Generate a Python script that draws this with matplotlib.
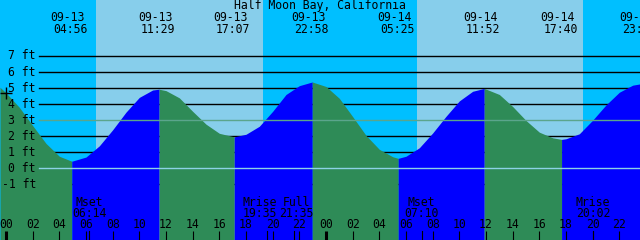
import numpy as np
import matplotlib
matplotlib.use("Agg")
import matplotlib.pyplot as plt
import matplotlib.transforms as mtransforms

TITLE = "Half Moon Bay, California"

# tide height, one value per hour from 09-13 00:00
hourly_ft = [
    4.70, 3.80, 2.66, 1.55, 0.75, 0.46, 0.70, 1.40, 2.40, 3.50, 4.42, 4.88,
    4.84, 4.39, 3.55, 2.75, 2.18, 1.97, 2.12, 2.62, 3.55, 4.60, 5.15, 5.38,
    5.10, 4.36, 3.22, 2.05, 1.18, 0.72, 0.75, 1.28, 2.20, 3.24, 4.20, 4.80,
    4.96, 4.60, 3.85, 2.98, 2.25, 1.90, 1.84, 2.15, 3.00, 3.95, 4.74, 5.18,
]
start_ft = 5.05  # left edge, just before midnight

# highs and lows
tide_dates = ["09-13", "09-13", "09-13", "09-13", "09-14", "09-14", "09-14", "09-14"]
tide_times = ["04:56", "11:29", "17:07", "22:58", "05:25", "11:52", "17:40", "23:33"]
tide_ft = [0.44, 4.93, 1.96, 5.38, 0.62, 4.98, 1.80, 5.26]
tide_high = [False, True, False, True, False, True, False, True]

# sun
sunrise = ["09-13 06:45", "09-14 06:50"]
sunset = ["09-13 19:16", "09-14 19:16"]

# moon
moon_names = ["Mset", "Mrise", "Full", "Mset", "Mrise"]
moon_dates = ["09-13", "09-13", "09-13", "09-14", "09-14"]
moon_times = ["06:14", "19:35", "21:35", "07:10", "20:02"]

levels = [-1, 0, 1, 2, 3, 4, 5, 6, 7]

NIGHT = "#00BFFF"
DAY = "#87CEEB"
FLOOD = "#0000FF"
EBB = "#2E8B57"
MSL = "#5BA58C"
DATUM = "#8CD2E6"

PX = 40 / 3  # pixels per hour
T0, T1 = -6 / PX, 634 / PX
Y0, Y1 = -4.47, 10.49


def to_hours(date, hm):
    day = int(date.split("-")[1]) - 13
    h, m = hm.split(":")
    return day * 24 + int(h) + int(m) / 60


tide_t = [to_hours(d, s) for d, s in zip(tide_dates, tide_times)]
moon_t = [to_hours(d, s) for d, s in zip(moon_dates, moon_times)]
rise_t = [to_hours(*s.split()) for s in sunrise]
set_t = [to_hours(*s.split()) for s in sunset]

t = np.array([T0] + list(range(len(hourly_ft))) + tide_t, dtype=float)
h = np.array([start_ft] + hourly_ft + tide_ft, dtype=float)
order = np.argsort(t)
t, h = t[order], h[order]
# drop hourly points sitting right next to an extreme
keep = np.ones(len(t), bool)
for i in range(len(t) - 1):
    if t[i + 1] - t[i] < 0.15:
        if t[i] in tide_t:
            keep[i + 1] = False
        else:
            keep[i] = False
t, h = t[keep], h[keep]

fig = plt.figure(figsize=(6.4, 2.4), dpi=100)
ax = fig.add_axes([0, 0, 1, 1])
ax.set_xlim(T0, T1)
ax.set_ylim(Y0, Y1)
ax.axis("off")
trans = mtransforms.blended_transform_factory(ax.transData, ax.transAxes)
font = dict(family="DejaVu Sans Mono", fontsize=8.3, color="black")

# day / night
edges = [T0] + sorted(rise_t + set_t) + [T1]
for i in range(len(edges) - 1):
    ax.axvspan(edges[i], edges[i + 1], color=NIGHT if i % 2 == 0 else DAY, lw=0, zorder=0)

# level lines under the water
for lv in levels:
    if lv in (0, 3):
        continue
    ax.axhline(lv, xmin=39 / 640, xmax=1, color="black", lw=1.0, zorder=1)

# water, coloured by rising / falling
bounds = [T0] + tide_t
for i in range(len(bounds) - 1):
    a, b = bounds[i], bounds[i + 1]
    m = (t >= a - 1e-9) & (t <= b + 1e-9)
    col = FLOOD if tide_high[i] else EBB
    ax.fill_between(t[m], h[m], Y0, color=col, lw=0, zorder=2)

ax.axhline(3, xmin=39 / 640, xmax=1, color=MSL, lw=1.0, zorder=3)
ax.axhline(0, xmin=39 / 640, xmax=1, color=DATUM, lw=1.0, zorder=3)

for lv in levels:
    ax.text(36 / 640, lv, f"{lv} ft", transform=ax.get_yaxis_transform(),
            ha="right", va="center", zorder=5, **font)

ax.plot(0, h[t == 0][0], marker="+", ms=8, mew=1.0, color="black", zorder=5)

ax.text(0.5, 1 - 6 / 240, TITLE, transform=ax.transAxes, ha="center", va="center", zorder=5, **font)
for tt, d, s in zip(tide_t, tide_dates, tide_times):
    ax.text(tt - 4 / PX, 1 - 17.5 / 240, d, transform=trans, ha="center", va="center", zorder=5, **font)
    ax.text(tt - 1 / PX, 1 - 29.5 / 240, s, transform=trans, ha="center", va="center", zorder=5, **font)

# hour axis along the bottom
for hr in range(0, 50, 2):
    ax.text(hr, 1 - 225 / 240, f"{hr % 24:02d}", transform=trans, ha="center", va="center", zorder=5, **font)
    ax.plot([hr, hr], [0, 9 / 240], transform=trans, color="black",
            lw=2.2 if hr % 24 == 0 else 0.8, zorder=5, solid_capstyle="butt")

nudge = [0, -7, 3, 0, 0]
for mt, name, s, dx in zip(moon_t, moon_names, moon_times, nudge):
    ax.plot([mt, mt], [0, 9 / 240], transform=trans, color="black", lw=0.8, zorder=5)
    ax.text(mt + dx / PX, 1 - 202 / 240, name, transform=trans, ha="center", va="center", zorder=5, **font)
    ax.text(mt + dx / PX, 1 - 213.5 / 240, s, transform=trans, ha="center", va="center", zorder=5, **font)

fig.savefig("out.png", dpi=100)
